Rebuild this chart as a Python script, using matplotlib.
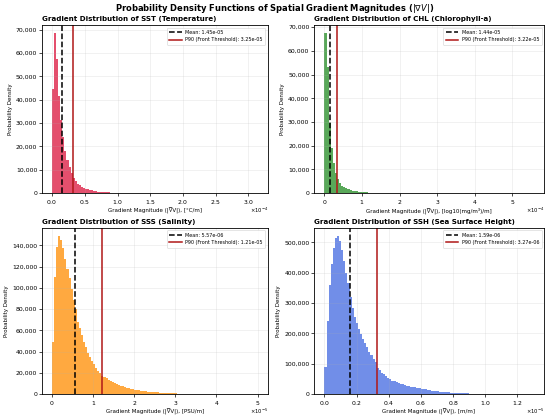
import numpy as np
import matplotlib
matplotlib.use("Agg")
import matplotlib.pyplot as plt
from matplotlib.ticker import FuncFormatter

# ---------------- data (densities) ----------------
sst_range = (0.0, 3.14e-4)
sst_density = [44500, 68500, 57500, 41500, 31500, 24000, 18000, 14000, 11000, 8700,
               6500, 5000, 4100, 3400, 2800, 2300, 1900, 1600, 1350, 1150,
               950, 800, 680, 580, 500, 420, 360, 300, 260, 220,
               190, 160, 130, 110, 90, 70, 55, 45, 35, 28,
               22, 18, 14, 11, 9, 7, 6, 5, 4, 3] + [2] * 20 + [1] * 30
sst_mean = 1.45e-05
sst_p90 = 3.25e-05

chl_range = (0.0, 5.56e-4)
chl_density = [67500, 53000, 29500, 19000, 12500, 8500, 5800, 4200, 3200, 2500,
               2000, 1600, 1300, 1050, 850, 700, 580, 480, 400, 330,
               270, 220, 180, 140, 110, 90, 70, 55, 45, 35,
               28, 22, 18, 14, 11, 9, 7, 5, 4, 3] + [2] * 20 + [1] * 40
chl_mean = 1.44e-05
chl_p90 = 3.22e-05

sss_range = (0.0, 5.0e-5)
sss_density = [49000, 110000, 138000, 149000, 145000, 137000, 127000, 118000, 109000, 99000,
               89000, 80000, 68000, 62000, 55500, 49000, 44000, 39000, 35000, 31000,
               28000, 25000, 22000, 19500, 17000, 16000, 14800, 13600, 12500, 11500,
               10600, 9700, 8900, 8100, 7400, 6800, 6200, 5600, 5100, 4600,
               4200, 3800, 3500, 3200, 2900, 2700, 2500, 2300, 2100, 1900,
               1750, 1600, 1450, 1320, 1200, 1100, 1000, 900, 820, 750,
               680, 620, 560, 500, 450, 410, 370, 330, 300, 270,
               240, 220, 200, 180, 160, 140, 120, 100, 80, 60,
               50, 40, 30, 25, 20, 15, 12, 10, 8, 6,
               5, 4, 3, 3, 2, 2, 2, 1, 1, 1]
sss_mean = 5.57e-06
sss_p90 = 1.21e-05

ssh_range = (0.0, 1.30e-5)
ssh_density = [90000, 241000, 360000, 430000, 480000, 515000, 522000, 505000, 475000, 440000,
               400000, 365000, 320000, 283000, 255000, 235000, 215000, 198000, 183000, 168000,
               154000, 140000, 128000, 117000, 105000, 85000, 78000, 71000, 65000, 59000,
               54000, 49000, 45000, 42000, 39000, 36000, 34000, 32000, 30000, 28000,
               26500, 25000, 23500, 22000, 21000, 20000, 18500, 17000, 15500, 14000,
               13000, 12000, 11000, 10000, 9200, 8400, 7700, 7000, 6400, 5800,
               5300, 4800, 4300, 3900, 3500, 3200, 2900, 2600, 2300, 2100,
               1900, 1700, 1500, 1400, 1300, 1150, 1050, 1000, 800, 650,
               500, 400, 300, 250, 200, 150, 120, 100, 80, 60,
               50, 40, 30, 25, 20, 15, 10, 8, 5, 3]
ssh_mean = 1.59e-06
ssh_p90 = 3.27e-06

panels = [
    ("SST (Temperature)", sst_range, sst_density, sst_mean, sst_p90, "[°C/m]", "#dc143c"),
    ("CHL (Chlorophyll-a)", chl_range, chl_density, chl_mean, chl_p90, "[log10(mg/m³)/m]", "#228b22"),
    ("SSS (Salinity)", sss_range, sss_density, sss_mean, sss_p90, "[PSU/m]", "#ff8c00"),
    ("SSH (Sea Surface Height)", ssh_range, ssh_density, ssh_mean, ssh_p90, "[m/m]", "#4169e1"),
]

# ---------------- figure ----------------
fig = plt.figure(figsize=(5.5, 4.18), dpi=100)
lefts = [0.076, 0.571]
rights = [0.487, 0.989]
tops = [0.940, 0.455]
bottoms = [0.538, 0.057]

fig.suptitle(r"Probability Density Functions of Spatial Gradient Magnitudes ($|\nabla V|$)",
             fontsize=6.0, fontweight="bold", y=0.995)

for k, (name, rng, dens, mean, p90, unit, color) in enumerate(panels):
    r, c = divmod(k, 2)
    ax = fig.add_axes([lefts[c], bottoms[r], rights[c] - lefts[c], tops[r] - bottoms[r]])
    dens = np.asarray(dens, dtype=float)
    edges = np.linspace(rng[0], rng[1], len(dens) + 1)
    ax.bar(edges[:-1], dens, width=np.diff(edges), align="edge", color=color,
           alpha=0.75, linewidth=0)
    ax.axvline(mean, color="black", linestyle="--", linewidth=1.1, label=f"Mean: {mean:.2e}")
    ax.axvline(p90, color="#b01818", linestyle="-", linewidth=1.1,
               label=f"P90 (Front Threshold): {p90:.2e}")
    ax.set_title(f"Gradient Distribution of {name}", fontsize=5.1, fontweight="bold",
                 pad=3, loc="left")
    ax.set_xlabel(f"Gradient Magnitude (|∇V|), {unit}", fontsize=4.0, labelpad=1.5)
    ax.set_ylabel("Probability Density", fontsize=4.0, labelpad=2)
    ax.yaxis.set_major_formatter(FuncFormatter(lambda v, p: f"{v:,.0f}"))
    ax.ticklabel_format(axis="x", style="sci", scilimits=(0, 0), useMathText=True)
    ax.xaxis.OFFSETTEXTPAD = 0
    ax.xaxis.get_offset_text().set_fontsize(3.8)
    ax.tick_params(labelsize=4.4, length=2, width=0.5, pad=1.3)
    ax.grid(True, alpha=0.3, linewidth=0.4)
    for s in ax.spines.values():
        s.set_linewidth(0.6)
    leg = ax.legend(loc="upper right", fontsize=3.5, framealpha=0.9, handlelength=2.5,
                    borderpad=0.5, labelspacing=0.5)
    leg.get_frame().set_linewidth(0.4)

fig.savefig("out.png", dpi=100)
